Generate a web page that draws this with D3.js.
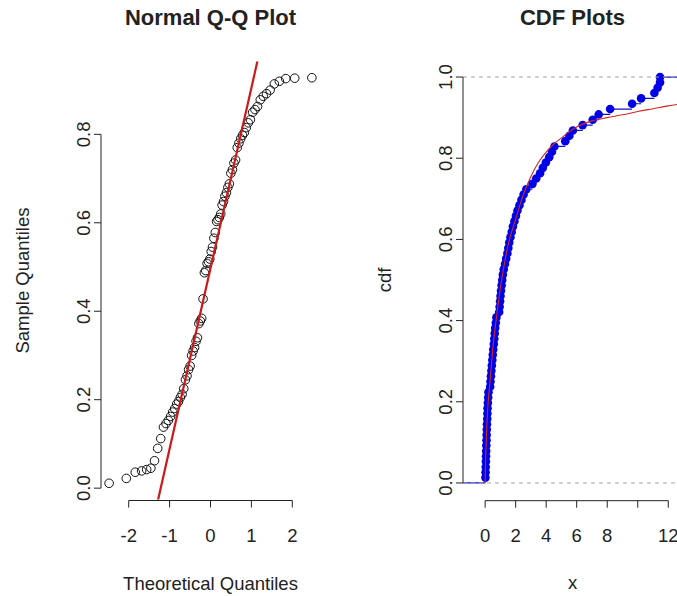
<!DOCTYPE html>
<html><head><meta charset="utf-8">
<script src="https://cdn.jsdelivr.net/npm/d3@7"></script>
<style>
body{margin:0;background:#fff}
svg{display:block}
text{font-family:"Liberation Sans",Arial,Helvetica,sans-serif;fill:#222}
</style></head>
<body><svg id="c" width="677" height="596"></svg>
<script>
// ---------- data ----------
const theoretical = [-2.479,-2.059,-1.840,-1.684,-1.561,-1.458,-1.369,-1.290,-1.217,-1.150,
 -1.088,-1.031,-0.976,-0.924,-0.875,-0.827,-0.782,-0.738,-0.695,-0.654,
 -0.613,-0.574,-0.536,-0.498,-0.461,-0.425,-0.389,-0.353,-0.319,-0.284,
 -0.250,-0.216,-0.182,-0.149,-0.116,-0.083,-0.049,-0.017,0.017,0.049,
 0.083,0.116,0.149,0.182,0.216,0.250,0.284,0.319,0.353,0.389,
 0.425,0.461,0.498,0.536,0.574,0.613,0.654,0.695,0.738,0.782,
 0.827,0.875,0.924,0.976,1.031,1.088,1.150,1.217,1.290,1.369,
 1.458,1.561,1.684,1.840,2.059,2.479];
const sampleQuantiles = [0.011,0.022,0.036,0.039,0.042,0.045,0.062,0.090,0.112,0.138,
 0.146,0.153,0.162,0.172,0.180,0.190,0.196,0.205,0.212,0.225,
 0.245,0.254,0.268,0.276,0.300,0.310,0.318,0.332,0.340,0.372,
 0.378,0.384,0.428,0.487,0.492,0.508,0.512,0.518,0.535,0.545,
 0.565,0.578,0.603,0.607,0.612,0.620,0.640,0.648,0.660,0.668,
 0.680,0.688,0.712,0.720,0.735,0.742,0.770,0.780,0.790,0.798,
 0.804,0.815,0.826,0.833,0.850,0.856,0.863,0.878,0.886,0.892,
 0.900,0.914,0.920,0.926,0.927,0.928];
const ecdfX = [0.02,0.03,0.04,0.05,0.06,0.07,0.08,0.09,0.10,0.11,
 0.12,0.14,0.15,0.16,0.18,0.20,0.22,0.33,0.35,0.38,
 0.41,0.44,0.47,0.50,0.53,0.57,0.60,0.63,0.66,0.70,
 0.74,0.92,0.95,0.98,1.01,1.04,1.08,1.12,1.16,1.22,
 1.30,1.38,1.46,1.52,1.58,1.66,1.74,1.82,1.92,2.02,
 2.12,2.25,2.38,2.52,2.70,3.10,3.35,3.60,3.78,3.98,
 4.20,4.38,4.54,5.25,5.52,5.75,6.39,7.05,7.44,8.19,
 9.63,10.22,11.09,11.30,11.46,11.46];
const fitX   = [0,0.02,0.05,0.1,0.2,0.3,0.5,0.75,1.0,1.5,2.0,2.5,3.0,3.5,4.0,4.5,5.0,5.5,6.0,7.0,8.0,9.0,10,11,12,13];
const fitCdf = [0,0.04,0.08,0.13,0.20,0.24,0.33,0.41,0.48,0.585,0.65,0.71,0.755,0.79,0.815,0.835,0.85,0.865,0.877,0.892,0.90,0.907,0.915,0.922,0.929,0.935];
const qqXTicks = [-2,-1,0,1,2];
const qqYTicks = [0,0.2,0.4,0.6,0.8];
const cdfXTicks = [0,2,4,6,8,10,12];
const cdfXTickLabels = ["0","2","4","6","8","","12"];
const cdfYTicks = [0,0.2,0.4,0.6,0.8,1.0];

// ---------- layout ----------
const svg = d3.select("#c");
const FS = 18.5;
const defs = svg.append("defs");

function axisLeft(g, y, x0, ticks, fmt){
  g.append("line").attr("x1",x0).attr("x2",x0)
    .attr("y1",y(d3.min(ticks))).attr("y2",y(d3.max(ticks))).attr("stroke","#222");
  ticks.forEach((t,i)=>{
    g.append("line").attr("x1",x0).attr("x2",x0-7).attr("y1",y(t)).attr("y2",y(t)).attr("stroke","#222");
    g.append("text").attr("transform",`translate(${x0-11},${y(t)}) rotate(-90)`)
      .attr("text-anchor","middle").attr("font-size",FS).text(fmt(t,i));
  });
}
function axisBottom(g, x, y0, ticks, fmt){
  g.append("line").attr("y1",y0).attr("y2",y0)
    .attr("x1",x(d3.min(ticks))).attr("x2",x(d3.max(ticks))).attr("stroke","#222");
  ticks.forEach((t,i)=>{
    g.append("line").attr("y1",y0).attr("y2",y0+7).attr("x1",x(t)).attr("x2",x(t)).attr("stroke","#222");
    g.append("text").attr("x",x(t)).attr("y",y0+41).attr("text-anchor","middle")
      .attr("font-size",FS).text(fmt(t,i));
  });
}

// ---------- Q-Q plot ----------
{
  const L=101, R=320, T=61.5, B=499.5;
  const ext = d3.extent(theoretical), ps=(ext[1]-ext[0])*0.04;
  const x = d3.scaleLinear().domain([ext[0]-ps, ext[1]+ps]).range([L,R]);
  const ey = d3.extent(sampleQuantiles), py=(ey[1]-ey[0])*0.04;
  const y = d3.scaleLinear().domain([ey[0]-py, ey[1]+py]).range([B,T]);
  const g = svg.append("g");
  defs.append("clipPath").attr("id","clipQQ").append("rect").attr("x",L).attr("y",T).attr("width",R-L).attr("height",B-T);

  g.selectAll("circle").data(sampleQuantiles).join("circle")
    .attr("cx",(d,i)=>x(theoretical[i])).attr("cy",d=>y(d)).attr("r",4.3)
    .attr("fill","none").attr("stroke","#111").attr("stroke-width",1);

  // qqline through quartiles
  const sorted = sampleQuantiles.slice().sort(d3.ascending);
  const q1 = d3.quantileSorted(sorted,0.25), q3 = d3.quantileSorted(sorted,0.75);
  const z = 0.6744898;
  const slope = (q3-q1)/(2*z), inter = q1 + slope*z;
  const xs = x.domain();
  g.append("line").attr("clip-path","url(#clipQQ)")
    .attr("x1",x(xs[0])).attr("y1",y(inter+slope*xs[0]))
    .attr("x2",x(xs[1])).attr("y2",y(inter+slope*xs[1]))
    .attr("stroke","#cc1a1a").attr("stroke-width",2.2);

  axisLeft(g, y, L, qqYTicks, t=>t.toFixed(1));
  axisBottom(g, x, B+1, qqXTicks, t=>String(t));

  g.append("text").attr("x",(L+R)/2).attr("y",25).attr("text-anchor","middle")
    .attr("font-size",22).attr("font-weight","bold").attr("fill","#111").text("Normal Q-Q Plot");
  g.append("text").attr("x",(L+R)/2).attr("y",590).attr("text-anchor","middle")
    .attr("font-size",FS).text("Theoretical Quantiles");
  g.append("text").attr("transform",`translate(29,${(T+B)/2}) rotate(-90)`).attr("text-anchor","middle")
    .attr("font-size",FS).text("Sample Quantiles");
}

// ---------- CDF plot ----------
{
  const L=463, R=682, T=60.8, B=499.2;
  const x = d3.scaleLinear().domain([-1.45,12.9]).range([L,R]);
  const y = d3.scaleLinear().domain([-0.04,1.04]).range([B,T]);
  const g = svg.append("g");
  defs.append("clipPath").attr("id","clipCDF").append("rect").attr("x",L).attr("y",T).attr("width",R-L).attr("height",B-T);
  const n = ecdfX.length;

  // ecdf horizontal steps
  const steps = [];
  steps.push([x.domain()[0], ecdfX[0], 0]);
  for(let i=0;i<n-1;i++) steps.push([ecdfX[i], ecdfX[i+1], (i+1)/n]);
  steps.push([ecdfX[n-1], x.domain()[1], 1]);
  g.append("g").attr("clip-path","url(#clipCDF)").selectAll("line").data(steps).join("line")
    .attr("x1",d=>x(d[0])).attr("x2",d=>x(d[1])).attr("y1",d=>y(d[2])).attr("y2",d=>y(d[2]))
    .attr("stroke","#1010c8").attr("stroke-width",1.2);

  g.append("g").selectAll("circle").data(ecdfX).join("circle")
    .attr("cx",d=>x(d)).attr("cy",(d,i)=>y((i+1)/n)).attr("r",4.3)
    .attr("fill","#0000e6");

  // reference lines at 0 and 1 (drawn over the steps)
  [0,1].forEach(v=>{
    g.append("line").attr("x1",L).attr("x2",R).attr("y1",y(v)).attr("y2",y(v))
      .attr("stroke","#a8a8a8").attr("stroke-dasharray","4,4");
  });

  // fitted cdf
  const line = d3.line().x(d=>x(d[0])).y(d=>y(d[1])).curve(d3.curveMonotoneX);
  g.append("path").attr("clip-path","url(#clipCDF)")
    .datum(fitX.map((v,i)=>[v,fitCdf[i]])).attr("d",line)
    .attr("fill","none").attr("stroke","#d02828").attr("stroke-width",1.1);

  axisLeft(g, y, L, cdfYTicks, t=>t.toFixed(1));
  axisBottom(g, x, B+1.5, cdfXTicks, (t,i)=>cdfXTickLabels[i]);

  g.append("text").attr("x",(L+R)/2).attr("y",25).attr("text-anchor","middle")
    .attr("font-size",22).attr("font-weight","bold").attr("fill","#111").text("CDF Plots");
  g.append("text").attr("x",(L+R)/2).attr("y",589).attr("text-anchor","middle")
    .attr("font-size",FS).text("x");
  g.append("text").attr("transform",`translate(391,${(T+B)/2}) rotate(-90)`).attr("text-anchor","middle")
    .attr("font-size",FS).text("cdf");
}
</script></body></html>
